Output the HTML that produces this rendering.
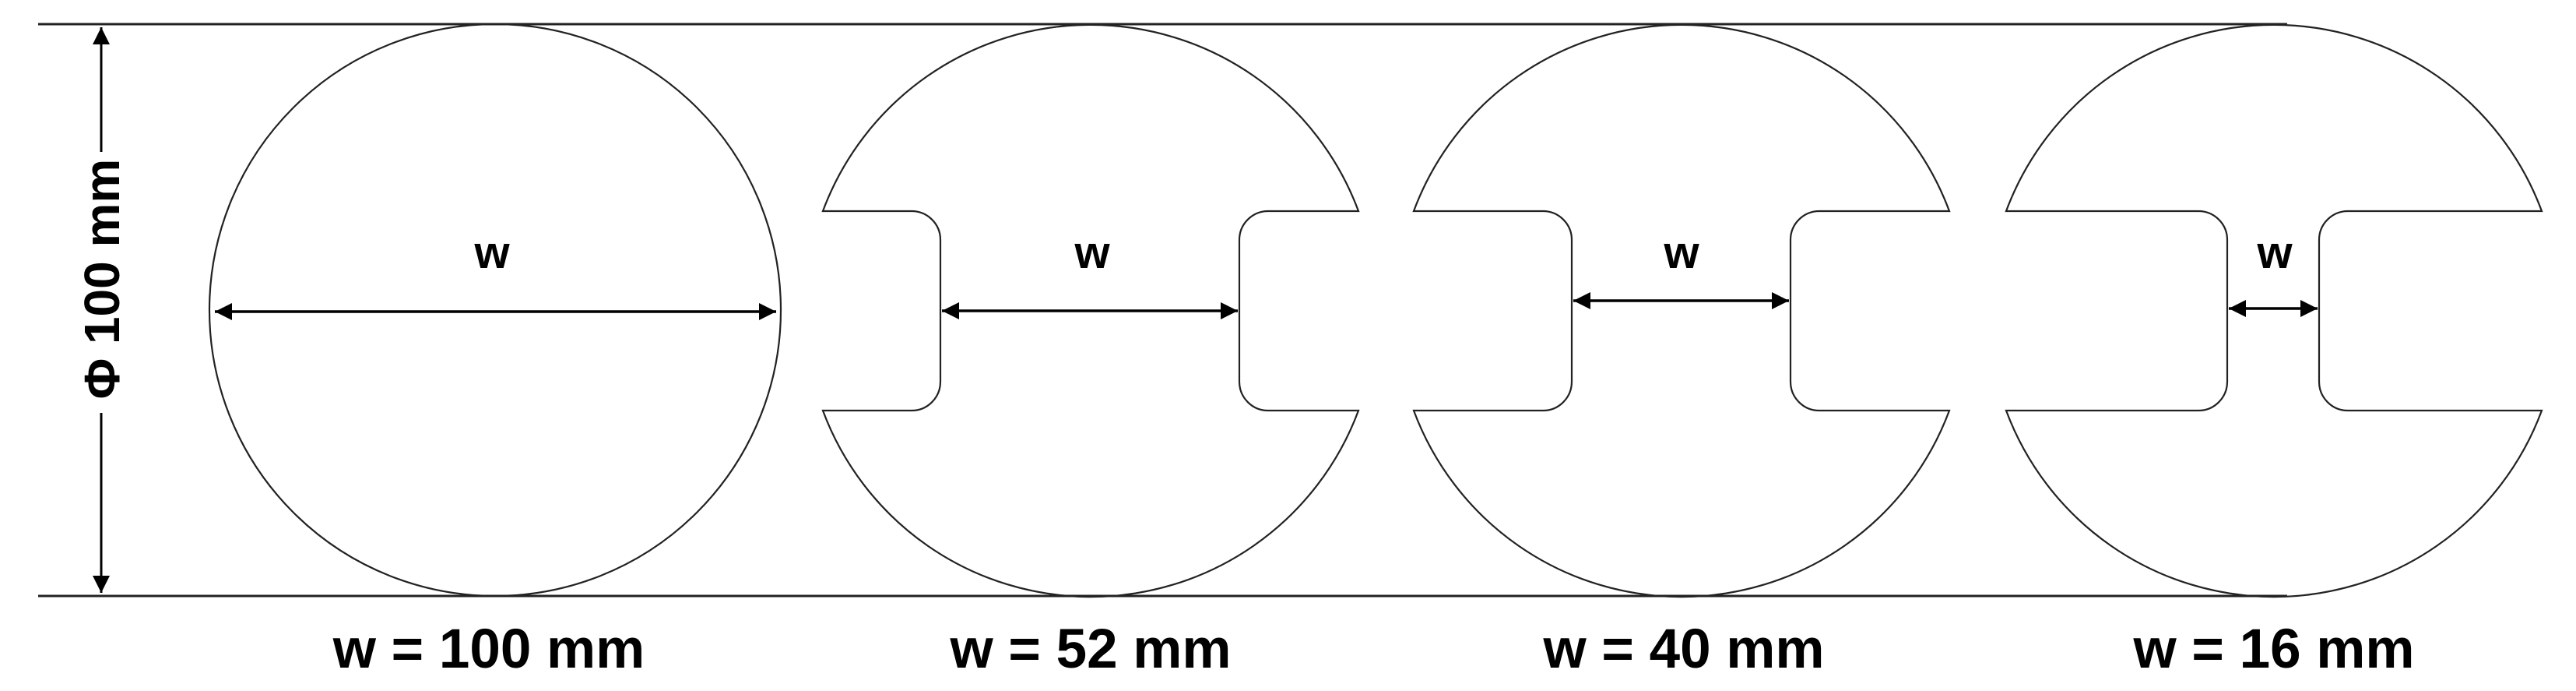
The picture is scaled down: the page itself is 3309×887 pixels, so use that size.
<!DOCTYPE html>
<html><head><style>
html,body{margin:0;padding:0;background:#fff;}
svg{display:block;}
text{font-family:"Liberation Sans",Arial,sans-serif;font-weight:bold;fill:#000;}
</style></head><body>
<svg width="3309" height="887" viewBox="0 0 3309 887" xmlns="http://www.w3.org/2000/svg">
<defs>
<marker id="ah" viewBox="0 0 10 10" refX="10" refY="5" markerWidth="34" markerHeight="22" markerUnits="userSpaceOnUse" orient="auto-start-reverse">
<path d="M0,0 L10,5 L0,10 z" fill="#000"/>
</marker>
</defs>
<g stroke="#222" stroke-width="3" fill="none">
<line x1="49" y1="31" x2="2938" y2="31"/>
<line x1="49" y1="765" x2="2938" y2="765"/>
</g>
<g stroke="#000" stroke-width="3" fill="none">
<line x1="130" y1="195" x2="130" y2="35" marker-end="url(#ah)"/>
<line x1="130" y1="530" x2="130" y2="761" marker-end="url(#ah)"/>
</g>
<text x="0" y="0" font-size="64" text-anchor="middle" transform="translate(153,358) rotate(-90)">Φ 100 mm</text>

<g stroke="#222" stroke-width="2.2" fill="none">
<circle cx="636" cy="398" r="367"/>
<path d="M1057,271 L1171,271 A37,37 0 0 1 1208,308 L1208,490 A37,37 0 0 1 1171,527 L1057,527 A367,367 0 0 0 1745,527 L1629,527 A37,37 0 0 1 1592,490 L1592,308 A37,37 0 0 1 1629,271 L1745,271 A367,367 0 0 0 1057,271 Z"/>
<path d="M1816,271 L1982,271 A37,37 0 0 1 2019,308 L2019,490 A37,37 0 0 1 1982,527 L1816,527 A367,367 0 0 0 2504,527 L2337,527 A37,37 0 0 1 2300,490 L2300,308 A37,37 0 0 1 2337,271 L2504,271 A367,367 0 0 0 1816,271 Z"/>
<path d="M2577,271 L2824,271 A37,37 0 0 1 2861,308 L2861,490 A37,37 0 0 1 2824,527 L2577,527 A367,367 0 0 0 3265,527 L3016,527 A37,37 0 0 1 2979,490 L2979,308 A37,37 0 0 1 3016,271 L3265,271 A367,367 0 0 0 2577,271 Z"/>
</g>
<g stroke="#000" stroke-width="3.5" fill="none">
<line x1="276" y1="400" x2="997" y2="400" marker-start="url(#ah)" marker-end="url(#ah)"/>
<line x1="1210" y1="399" x2="1590" y2="399" marker-start="url(#ah)" marker-end="url(#ah)"/>
<line x1="2021" y1="386" x2="2298" y2="386" marker-start="url(#ah)" marker-end="url(#ah)"/>
<line x1="2863" y1="396" x2="2977" y2="396" marker-start="url(#ah)" marker-end="url(#ah)"/>
</g>
<g font-size="58" text-anchor="middle">
<text x="632" y="344">w</text>
<text x="1403" y="344">w</text>
<text x="2160" y="344">w</text>
<text x="2922" y="344">w</text>
</g>
<g font-size="71" text-anchor="middle">
<text x="628" y="857">w = 100 mm</text>
<text x="1401" y="857">w = 52 mm</text>
<text x="2163" y="857">w = 40 mm</text>
<text x="2921" y="857">w = 16 mm</text>
</g>
</svg>
</body></html>
